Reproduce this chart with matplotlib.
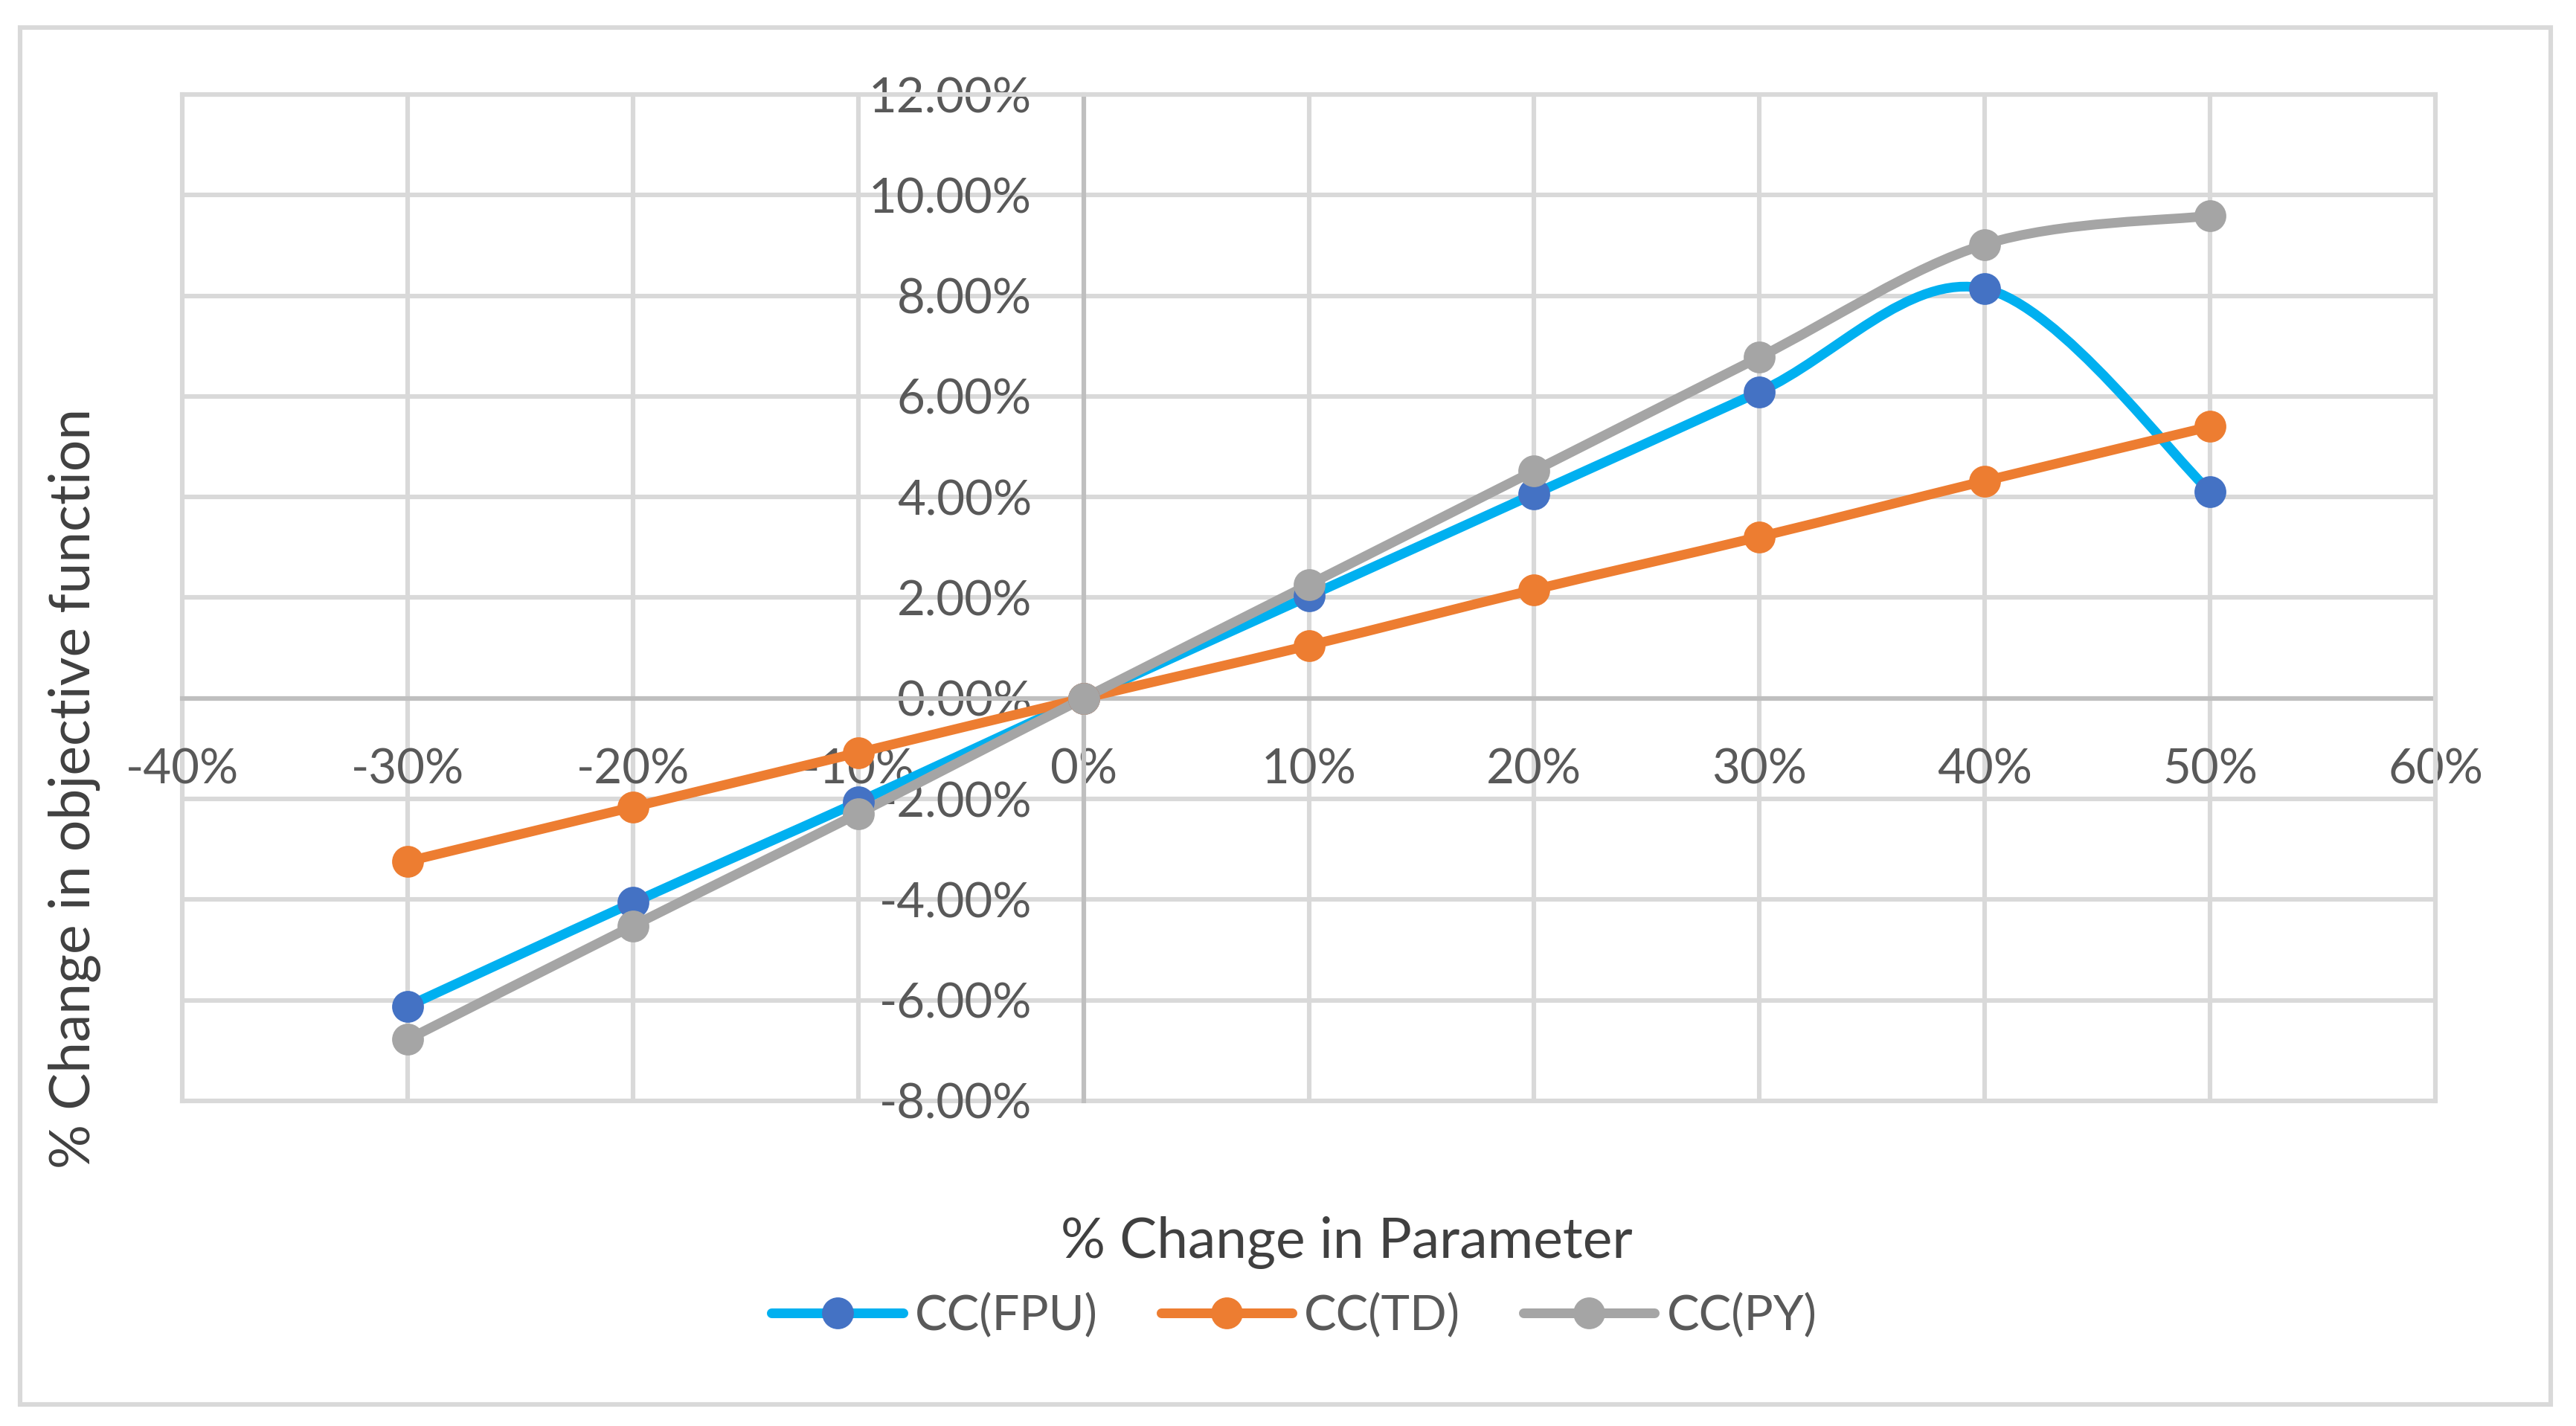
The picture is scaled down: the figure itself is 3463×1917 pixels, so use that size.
import numpy as np
import matplotlib
matplotlib.use("Agg")
import matplotlib.pyplot as plt
from matplotlib.path import Path
from matplotlib.patches import PathPatch, Rectangle
from matplotlib.lines import Line2D
from matplotlib.ticker import FuncFormatter

plt.rcParams["font.family"] = ["Lato", "DejaVu Sans"]

# data, both axes in percent
param_change = [-30, -20, -10, 0, 10, 20, 30, 40, 50]
cc_fpu = [-6.12, -4.06, -2.06, 0.0, 2.03, 4.06, 6.09, 8.14, 4.11]
cc_td = [-3.24, -2.16, -1.08, 0.0, 1.05, 2.16, 3.21, 4.32, 5.40]
cc_py = [-6.78, -4.52, -2.29, 0.0, 2.26, 4.52, 6.78, 9.02, 9.59]

series = [
    ("CC(FPU)", cc_fpu, "#00B0F0", "#4472C4"),
    ("CC(TD)", cc_td, "#ED7D31", "#ED7D31"),
    ("CC(PY)", cc_py, "#A5A5A5", "#A5A5A5"),
]

x_ticks = list(range(-40, 61, 10))
y_ticks = list(range(-8, 13, 2))

W, H, DPI = 3463, 1917, 200
fig = plt.figure(figsize=(W / DPI, H / DPI), dpi=DPI)

GRID = "#D9D9D9"
AXIS = "#BFBFBF"
TXT = "#595959"

# outer chart border
fig.patches.append(Rectangle((27 / W, 1 - 1888 / H), (3429 - 27) / W, (1888 - 37) / H,
                             transform=fig.transFigure, fill=False,
                             edgecolor=GRID, lw=2.2))

ax = fig.add_axes([245 / W, 1 - 1480 / H, (3274 - 245) / W, (1480 - 127) / H])
ax.set_xlim(-40, 60)
ax.set_ylim(-8, 12)
ax.set_xticks(x_ticks)
ax.set_yticks(y_ticks)
ax.grid(True, color=GRID, lw=2.2, zorder=0)
ax.set_axisbelow(True)

for side in ["top", "right"]:
    ax.spines[side].set_color(GRID)
    ax.spines[side].set_linewidth(2.2)
# bottom/left spines moved to zero -> act as the axes lines
ax.spines["bottom"].set_position(("data", 0))
ax.spines["left"].set_position(("data", 0))
ax.spines["bottom"].set_color(AXIS)
ax.spines["left"].set_color(AXIS)
ax.spines["bottom"].set_linewidth(2.2)
ax.spines["left"].set_linewidth(2.2)
ax.spines["bottom"].set_zorder(1)
ax.spines["left"].set_zorder(1)
# frame edges at the limits
ax.axhline(-8, color=GRID, lw=2.2, zorder=0.5, clip_on=False)
ax.axvline(-40, color=GRID, lw=2.2, zorder=0.5, clip_on=False)

ax.xaxis.set_major_formatter(FuncFormatter(lambda v, p: f"{v:.0f}%"))
ax.yaxis.set_major_formatter(FuncFormatter(lambda v, p: f"{v:.2f}%"))
ax.tick_params(axis="x", length=0, pad=24, labelsize=23.5, labelcolor=TXT)
ax.tick_params(axis="y", length=0, pad=25, labelsize=23.5, labelcolor=TXT)


def smooth_path(xs, ys):
    # Catmull-Rom style bezier, like Excel's smoothed line
    pts = np.column_stack([xs, ys]).astype(float)
    n = len(pts)
    verts = [pts[0]]
    codes = [Path.MOVETO]
    for i in range(n - 1):
        p0 = pts[max(i - 1, 0)]
        p1 = pts[i]
        p2 = pts[i + 1]
        p3 = pts[min(i + 2, n - 1)]
        c1 = p1 + (p2 - p0) / 6.0
        c2 = p2 - (p3 - p1) / 6.0
        verts += [c1, c2, p2]
        codes += [Path.CURVE4] * 3
    return Path(verts, codes)


handles = []
for name, vals, lc, mc in series:
    patch = PathPatch(smooth_path(param_change, vals), facecolor="none",
                      edgecolor=lc, lw=4.7, capstyle="round", joinstyle="round",
                      zorder=3)
    ax.add_patch(patch)
    ax.plot(param_change, vals, "o", ms=14.4, mfc=mc, mec=mc, zorder=4)
    handles.append(Line2D([], [], color=lc, lw=4.7, marker="o", ms=14.4,
                          mfc=mc, mec=mc, solid_capstyle="round", label=name))

fig.text(1810 / W, 1 - 1670 / H, "% Change in Parameter", ha="center", va="center",
         fontsize=27, color="#404040")
fig.text(100 / W, 1 - 1060 / H, "% Change in objective function", ha="center",
         va="center", rotation=90, fontsize=27, color="#404040")

fig.legend(handles=handles, loc="center", bbox_to_anchor=(1740 / W, 1 - 1768 / H),
           ncol=3, frameon=False, fontsize=23.5, labelcolor=TXT,
           handlelength=2.7, handletextpad=0.25, columnspacing=1.3)

fig.savefig("out.png", dpi=DPI, facecolor="white")
